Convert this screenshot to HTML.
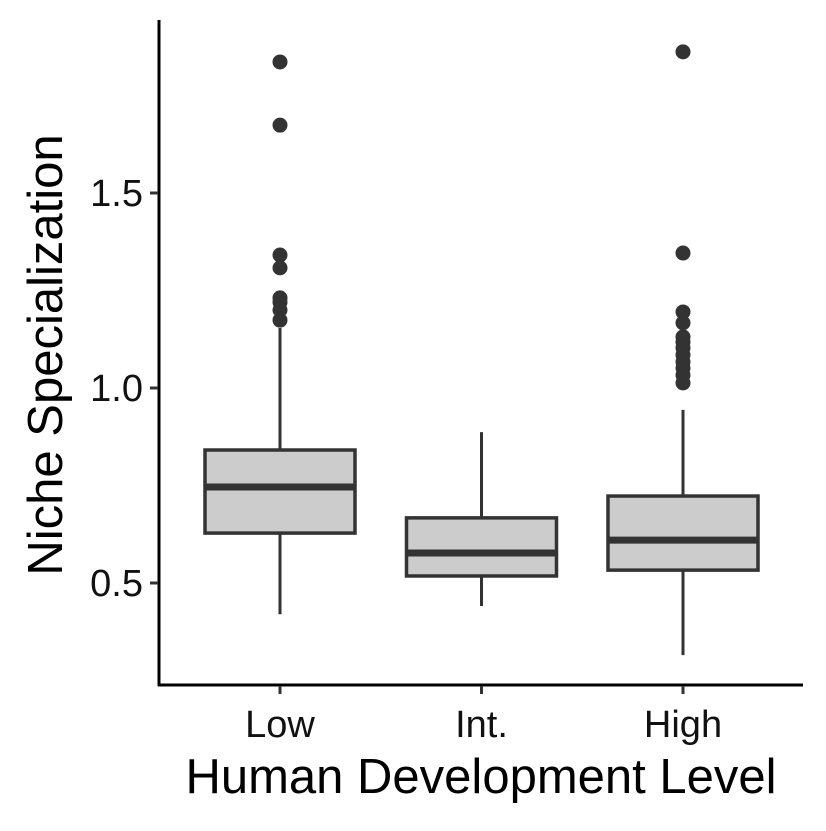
<!DOCTYPE html>
<html><head><meta charset="utf-8"><style>
body{margin:0;background:#fff;}
svg text{font-family:"Liberation Sans",Arial,sans-serif;}
</style></head><body>
<svg id="chart" width="826" height="826" viewBox="0 0 826 826" xmlns="http://www.w3.org/2000/svg">
<rect width="826" height="826" fill="#fff"/>
<g id="marks"></g>
<line x1="159" y1="20" x2="159" y2="686" stroke="#000" stroke-width="3"/>
<line x1="158" y1="685" x2="803" y2="685" stroke="#000" stroke-width="3"/>
<g id="axes"></g>
<text x="481" y="793" font-size="49" text-anchor="middle" fill="#000">Human Development Level</text>
<text transform="translate(62,355) rotate(-90)" font-size="49" text-anchor="middle" fill="#000">Niche Specialization</text>
</svg>
<script>
const categories=["Low","Int.","High"];
const whiskerLow=[0.42,0.441,0.315];
const q1=[0.628,0.518,0.533];
const median=[0.746,0.577,0.610];
const q3=[0.841,0.667,0.723];
const whiskerHigh=[1.154,0.887,0.944];
const outliersLow=[1.836,1.674,1.341,1.308,1.231,1.22,1.2,1.174];
const outliersInt=[];
const outliersHigh=[1.862,1.346,1.195,1.167,1.131,1.118,1.103,1.085,1.067,1.051,1.033,1.013];
const yTicks=[0.5,1.0,1.5];
const yTickLabels=["0.5","1.0","1.5"];

const NS="http://www.w3.org/2000/svg";
function y(v){return 388-(v-1)*390;}
function x(i){return 280+i*201.5;}
const marks=document.getElementById('marks');
const axes=document.getElementById('axes');
function mk(tag,attrs,parent){const e=document.createElementNS(NS,tag);for(const k in attrs)e.setAttribute(k,attrs[k]);parent.appendChild(e);return e;}
const outliers=[outliersLow,outliersInt,outliersHigh];
const hw=75;
categories.forEach((c,i)=>{
  const cx=x(i);
  const w1=mk('line',{x1:cx,x2:cx,y1:y(q3[i]),y2:y(whiskerHigh[i]),stroke:'#333',"stroke-width":3},marks);
  
  
  const w2=mk('line',{x1:cx,x2:cx,y1:y(q1[i]),y2:y(whiskerLow[i]),stroke:'#333',"stroke-width":3},marks);
  
  
  const b=mk('rect',{x:cx-hw,y:y(q3[i]),width:2*hw,height:y(q1[i])-y(q3[i]),fill:'#cccccc',stroke:'#333',"stroke-width":3.5},marks);
  
  
  const m=mk('line',{x1:cx-hw,x2:cx+hw,y1:y(median[i]),y2:y(median[i]),stroke:'#333',"stroke-width":7},marks);
  
  
  outliers[i].forEach(v=>{
    const p=mk('circle',{cx:cx,cy:y(v),r:7.5,fill:'#333'},marks);
    
    
  });
  const t=mk('line',{x1:cx,x2:cx,y1:686,y2:694,stroke:'#333',"stroke-width":3},axes);
  
  
  const l=mk('text',{x:cx,y:737,"font-size":38,"text-anchor":"middle",fill:'#111'},axes);
  l.textContent=c;
  
  
});
yTicks.forEach((v,i)=>{
  const t=mk('line',{x1:150,x2:158,y1:y(v),y2:y(v),stroke:'#333',"stroke-width":3},axes);
  
  
  const l=mk('text',{x:143,y:y(v)+13,"font-size":38,"text-anchor":"end",fill:'#111'},axes);
  l.textContent=yTickLabels[i];
  
  
});
</script>
</body></html>
